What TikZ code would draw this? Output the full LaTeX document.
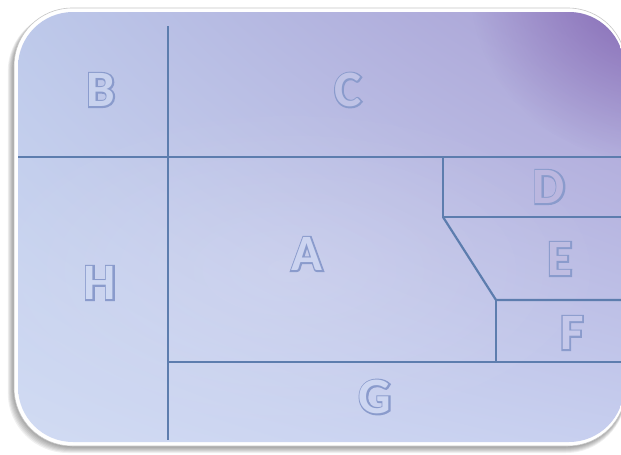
\documentclass[tikz,border=0pt]{standalone}
\usepackage{fontspec}
\newfontfamily\lblout{Carlito}[FakeBold=6]
\newfontfamily\lblfill{Carlito}
\usetikzlibrary{fadings,shadings}
\definecolor{ul}{HTML}{BDC9EA}
\definecolor{ur}{HTML}{A99FD4}
\definecolor{ll}{HTML}{D1DBF3}
\definecolor{lr}{HTML}{C7CFEF}
\definecolor{cornerpurple}{HTML}{7A58AA}
\definecolor{divline}{HTML}{5D7DAE}
\definecolor{lblline}{HTML}{8A9BCC}
\tikzfading[name=radfade, inner color=transparent!0, outer color=transparent!100]
\tikzset{
  divider/.style={draw=divline, line width=2.2pt},
  letter/.style={inner sep=0pt, anchor=center},
}
\newcommand\hollow[2]{\makebox[0pt][l]{\textcolor{lblline}{\lblout\bfseries #1}}\textcolor[HTML]{#2}{\lblfill\bfseries #1}}
\begin{document}
\begin{tikzpicture}[x=1pt,y=-1pt,font=\fontsize{51}{51}\selectfont]
\useasboundingbox (0,0) rectangle (621,455);
\fill[white] (0,0) rectangle (621,455);
% shadow
\foreach \s in {8,7,...,1}
  \fill[black, opacity=0.06, rounded corners=60pt] (15-\s*0.9,9+\s*0.3) rectangle (626,445+\s*1.0);
% white bevel border
\fill[white, rounded corners=58pt] (14,8) rectangle (626,446);
\draw[gray!45, line width=0.6pt, rounded corners=58pt] (14,8) rectangle (626,446);
% interior gradient
\begin{scope}
  \clip[rounded corners=55pt] (18,12) rectangle (624,442);
  \shade[upper left=ul, upper right=ur, lower left=ll, lower right=lr] (18,12) rectangle (624,442);
  \fill[cornerpurple, path fading=radfade, opacity=0.8] (645,-15) circle (175pt);
  \fill[white, path fading=radfade, opacity=0.14] (290,270) ellipse (330pt and 170pt);
\end{scope}
% named points
\coordinate (vtop) at (168,26);
\coordinate (vbot) at (168,440);
\coordinate (hl) at (18,157);
\coordinate (hr) at (621,157);
\coordinate (dtop) at (443,157);
\coordinate (dbot) at (443,217);
\coordinate (dr) at (621,217);
\coordinate (ftop) at (496,300);
\coordinate (fr) at (621,300);
\coordinate (fbot) at (496,362);
\coordinate (gl) at (168,362);
\coordinate (gr) at (621,362);
\draw[divider] (vtop) -- (vbot);
\draw[divider] (hl) -- (hr);
\draw[divider] (dtop) -- (dbot) -- (dr);
\draw[divider] (dbot) -- (ftop) -- (fr);
\draw[divider] (ftop) -- (fbot);
\draw[divider] (gl) -- (gr);
% labels
\node[letter] (B) at (101,90) {\hollow{B}{C8D2EE}};
\node[letter] (C) at (348,90) {\hollow{C}{BFC3E6}};
\node[letter] (A) at (307,254) {\hollow{A}{CCD4F0}};
\node[letter] (H) at (100,283) {\hollow{H}{CED8F2}};
\node[letter] (D) at (549,187) {\hollow{D}{BBB7DF}};
\node[letter] (E) at (560,259) {\hollow{E}{BFBDE2}};
\node[letter] (F) at (572,333) {\hollow{F}{C5C8EA}};
\node[letter] (G) at (375,397) {\hollow{G}{CDD6F1}};
\end{tikzpicture}
\end{document}
